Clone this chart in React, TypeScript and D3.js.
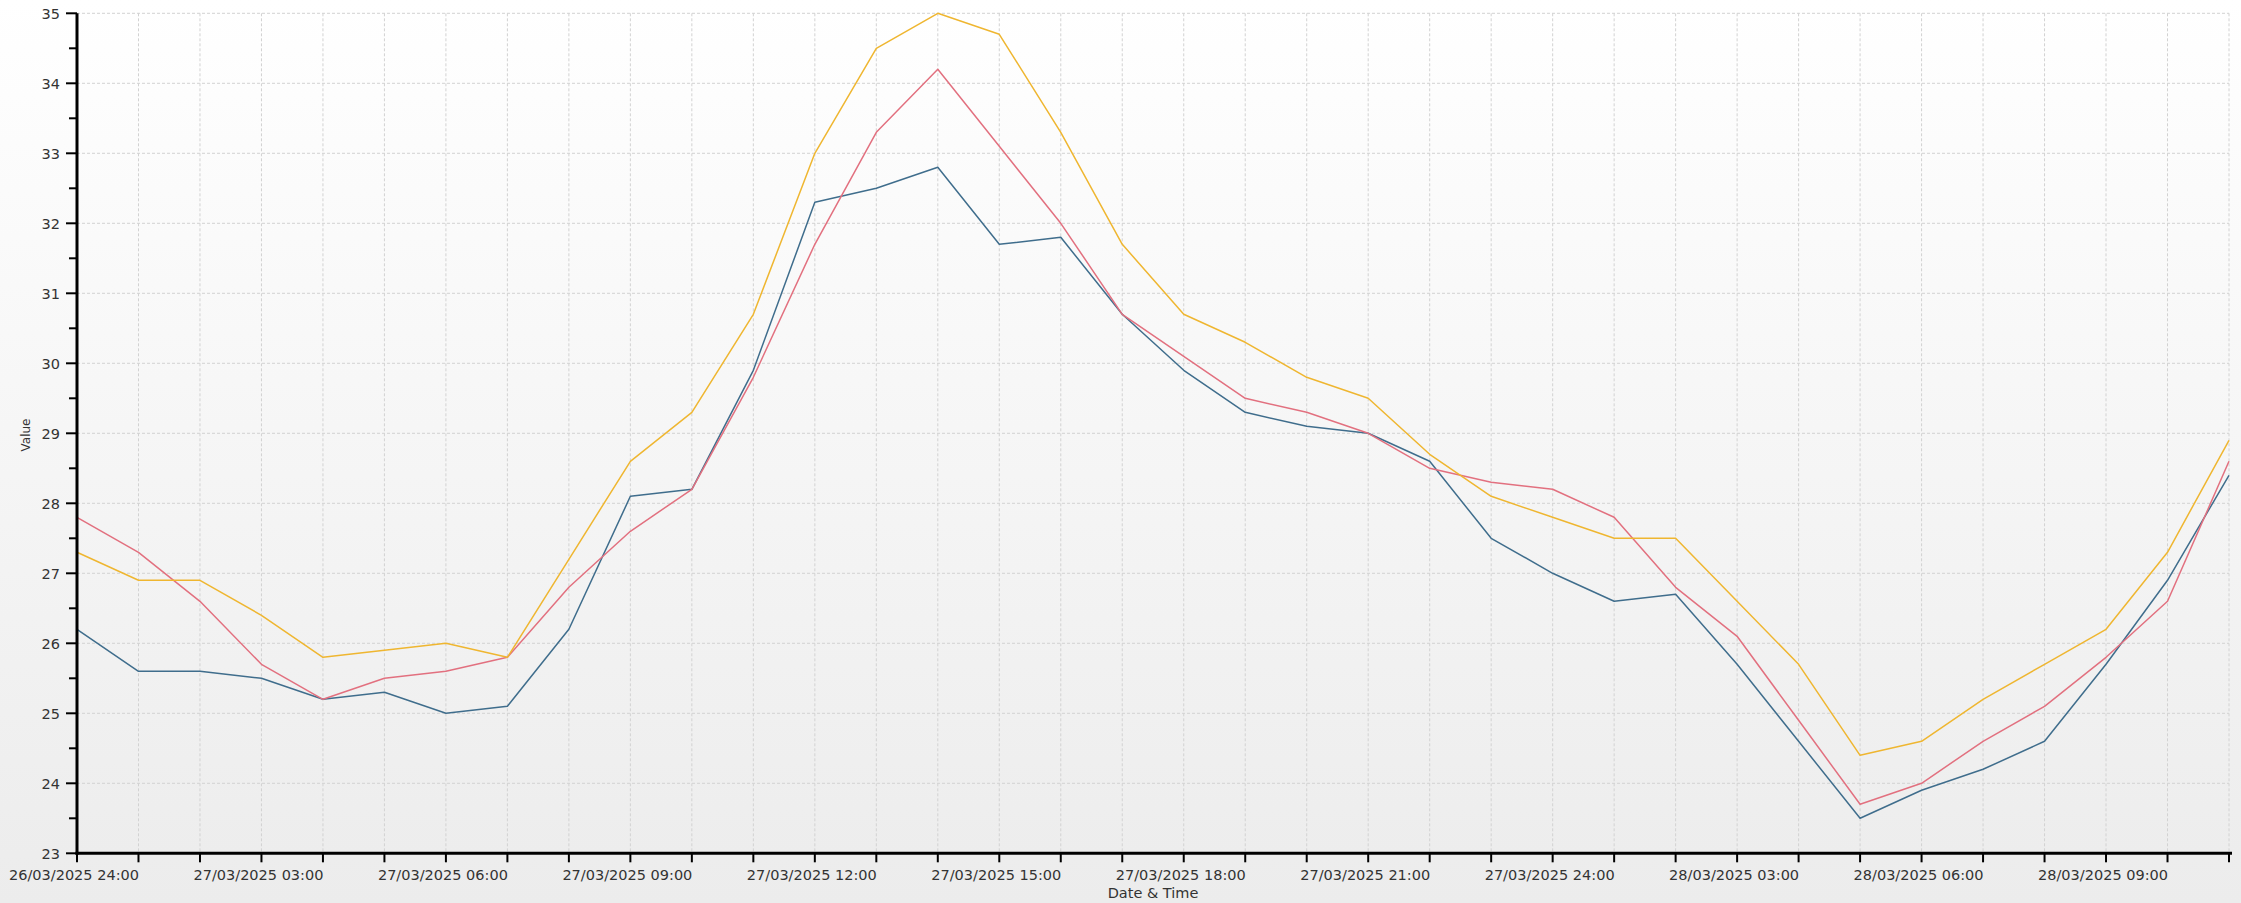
import React, { useEffect, useRef } from "react";
import * as d3 from "d3";

const W = 2241;
const H = 903;

// hourly timestamps from 27/03/2025 00:00 to 28/03/2025 11:00
const startTime = new Date(2025, 2, 27, 0, 0);
const endTime = new Date(2025, 2, 28, 11, 0);
const times: Date[] = d3.timeHour.range(startTime, d3.timeHour.offset(endTime, 1));

const seriesBlue = [26.2, 25.6, 25.6, 25.5, 25.2, 25.3, 25.0, 25.1, 26.2, 28.1, 28.2, 29.9, 32.3, 32.5, 32.8, 31.7, 31.8, 30.7, 29.9, 29.3, 29.1, 29.0, 28.6, 27.5, 27.0, 26.6, 26.7, 25.7, 24.6, 23.5, 23.9, 24.2, 24.6, 25.7, 26.9, 28.4];
const seriesRed = [27.8, 27.3, 26.6, 25.7, 25.2, 25.5, 25.6, 25.8, 26.8, 27.6, 28.2, 29.8, 31.7, 33.3, 34.2, 33.1, 32.0, 30.7, 30.1, 29.5, 29.3, 29.0, 28.5, 28.3, 28.2, 27.8, 26.8, 26.1, 24.9, 23.7, 24.0, 24.6, 25.1, 25.8, 26.6, 28.6];
const seriesOrange = [27.3, 26.9, 26.9, 26.4, 25.8, 25.9, 26.0, 25.8, 27.2, 28.6, 29.3, 30.7, 33.0, 34.5, 35.0, 34.7, 33.3, 31.7, 30.7, 30.3, 29.8, 29.5, 28.7, 28.1, 27.8, 27.5, 27.5, 26.6, 25.7, 24.4, 24.6, 25.2, 25.7, 26.2, 27.3, 28.9];

const seriesList = [
  { name: "Series 1", values: seriesBlue, color: "#3f6d8c" },
  { name: "Series 2", values: seriesRed, color: "#e2707f" },
  { name: "Series 3", values: seriesOrange, color: "#efb630" },
];

const yDomain: [number, number] = [23, 35];
const xTitle = "Date & Time";
const yTitle = "Value";

function formatTick(d: Date): string {
  const pad = (n: number) => (n < 10 ? "0" + n : "" + n);
  if (d.getHours() === 0) {
    const prev = d3.timeDay.offset(d, -1);
    return `${pad(prev.getDate())}/${pad(prev.getMonth() + 1)}/${prev.getFullYear()} 24:00`;
  }
  return `${pad(d.getDate())}/${pad(d.getMonth() + 1)}/${d.getFullYear()} ${pad(d.getHours())}:00`;
}

export default function App() {
  const ref = useRef<SVGSVGElement | null>(null);

  useEffect(() => {
    document.body.style.margin = "0";
    document.body.style.overflow = "hidden";
    const svg = d3.select(ref.current);
    svg.selectAll("*").remove();

    const left = 77;
    const right = 2229;
    const top = 13.3;
    const bottom = 853.3;

    const x = d3.scaleTime().domain([startTime, endTime]).range([left, right]);
    const y = d3.scaleLinear().domain(yDomain).range([bottom, top]);

    const defs = svg.append("defs");
    const grad = defs
      .append("linearGradient")
      .attr("id", "bg")
      .attr("x1", 0)
      .attr("y1", 0)
      .attr("x2", 0)
      .attr("y2", 1);
    grad.append("stop").attr("offset", "0%").attr("stop-color", "#ffffff");
    grad.append("stop").attr("offset", "100%").attr("stop-color", "#ececec");

    svg.append("rect").attr("x", 0).attr("y", 0).attr("width", W).attr("height", H).attr("fill", "url(#bg)");

    const hourTicks = d3.timeHour.range(startTime, d3.timeHour.offset(endTime, 1));
    const yTicks = d3.range(yDomain[0], yDomain[1] + 0.001, 1);
    const yMinor = d3.range(yDomain[0] + 0.5, yDomain[1], 1);

    // grid
    const grid = svg.append("g");
    grid
      .selectAll("line.v")
      .data(hourTicks.slice(1))
      .join("line")
      .attr("x1", (d) => x(d))
      .attr("x2", (d) => x(d))
      .attr("y1", top)
      .attr("y2", bottom)
      .attr("stroke", "#d2d2d2")
      .attr("stroke-width", 1)
      .attr("stroke-dasharray", "3,2");
    grid
      .selectAll("line.h")
      .data(yTicks.slice(1))
      .join("line")
      .attr("x1", left)
      .attr("x2", right)
      .attr("y1", (d) => y(d))
      .attr("y2", (d) => y(d))
      .attr("stroke", "#d2d2d2")
      .attr("stroke-width", 1)
      .attr("stroke-dasharray", "3,2");

    // lines
    const line = d3
      .line<number>()
      .x((_, i) => x(times[i]))
      .y((d) => y(d));
    seriesList.forEach((s) => {
      svg
        .append("path")
        .datum(s.values)
        .attr("d", line)
        .attr("fill", "none")
        .attr("stroke", s.color)
        .attr("stroke-width", 1.5)
        .attr("stroke-linejoin", "round");
    });

    const font = "'DejaVu Sans', Verdana, sans-serif";

    // y axis
    const yAxis = svg.append("g");
    yAxis
      .append("line")
      .attr("x1", left)
      .attr("x2", left)
      .attr("y1", top)
      .attr("y2", bottom + 1.5)
      .attr("stroke", "#000")
      .attr("stroke-width", 3);
    yAxis
      .selectAll("line.maj")
      .data(yTicks)
      .join("line")
      .attr("x1", left - 11)
      .attr("x2", left)
      .attr("y1", (d) => y(d))
      .attr("y2", (d) => y(d))
      .attr("stroke", "#000")
      .attr("stroke-width", 2);
    yAxis
      .selectAll("line.min")
      .data(yMinor)
      .join("line")
      .attr("class", "min")
      .attr("x1", left - 8)
      .attr("x2", left)
      .attr("y1", (d) => y(d))
      .attr("y2", (d) => y(d))
      .attr("stroke", "#000")
      .attr("stroke-width", 2);
    yAxis
      .selectAll("text")
      .data(yTicks)
      .join("text")
      .attr("x", 60)
      .attr("y", (d) => y(d))
      .attr("dy", "0.36em")
      .attr("text-anchor", "end")
      .attr("font-family", font)
      .attr("font-size", 14.5)
      .attr("fill", "#333")
      .text((d) => d3.format("d")(d));

    // x axis
    const xAxis = svg.append("g");
    xAxis
      .append("line")
      .attr("x1", left - 1.5)
      .attr("x2", right + 3)
      .attr("y1", bottom)
      .attr("y2", bottom)
      .attr("stroke", "#000")
      .attr("stroke-width", 3);
    xAxis
      .selectAll("line.tick")
      .data(hourTicks)
      .join("line")
      .attr("x1", (d) => x(d))
      .attr("x2", (d) => x(d))
      .attr("y1", bottom)
      .attr("y2", bottom + 9)
      .attr("stroke", "#000")
      .attr("stroke-width", 2);
    xAxis
      .selectAll("text")
      .data(hourTicks.filter((d) => d.getHours() % 3 === 0))
      .join("text")
      .attr("x", (d) => x(d) - 3)
      .attr("y", 880)
      .attr("text-anchor", "middle")
      .attr("font-family", font)
      .attr("font-size", 14.5)
      .attr("fill", "#333")
      .text((d) => formatTick(d));

    // titles
    svg
      .append("text")
      .attr("x", (left + right) / 2)
      .attr("y", 898)
      .attr("text-anchor", "middle")
      .attr("font-family", font)
      .attr("font-size", 14.5)
      .attr("fill", "#333")
      .text(xTitle);
    svg
      .append("text")
      .attr("transform", `translate(30,435) rotate(-90)`)
      .attr("text-anchor", "middle")
      .attr("font-family", font)
      .attr("font-size", 12)
      .attr("fill", "#333")
      .text(yTitle);
  }, []);

  return (
    <svg
      ref={ref}
      width={W}
      height={H}
      style={{ position: "absolute", left: 0, top: 0, display: "block" }}
    />
  );
}
